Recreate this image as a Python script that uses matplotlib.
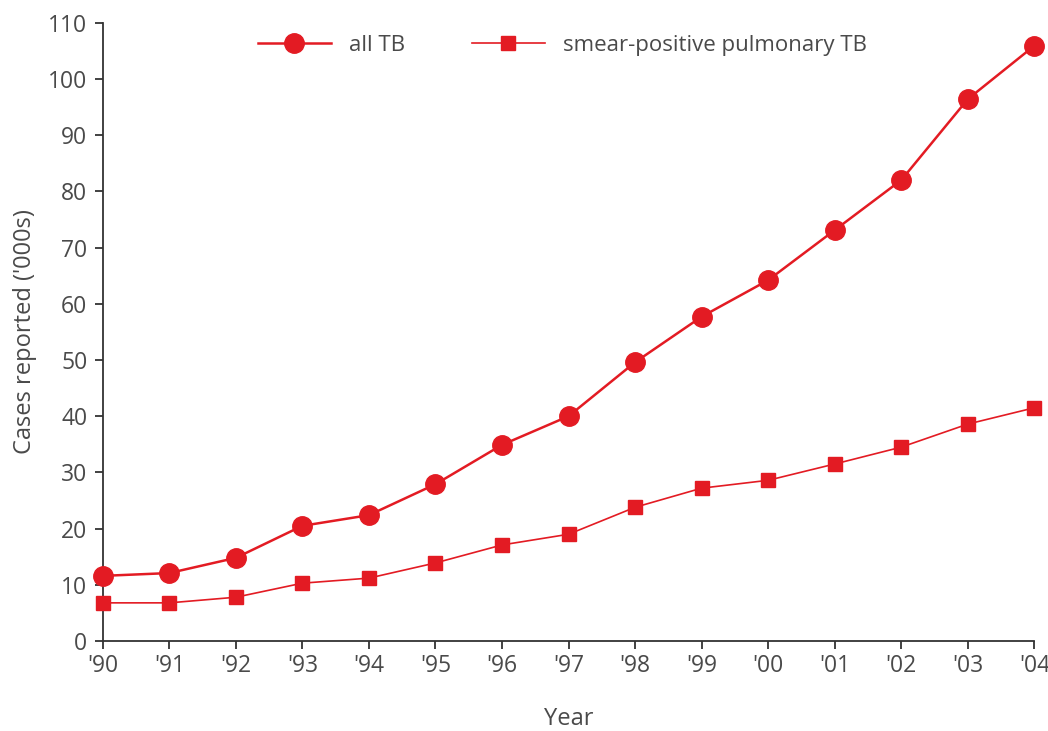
import matplotlib
matplotlib.use("Agg")
import matplotlib.pyplot as plt

# data
years = ["'90", "'91", "'92", "'93", "'94", "'95", "'96", "'97",
         "'98", "'99", "'00", "'01", "'02", "'03", "'04"]
all_tb = [11.6, 12.1, 14.8, 20.5, 22.4, 27.9, 34.9, 40.0,
          49.6, 57.7, 64.2, 73.1, 82.0, 96.4, 105.9]
smear_pos = [6.8, 6.8, 7.8, 10.3, 11.2, 13.9, 17.1, 19.0,
             23.8, 27.2, 28.6, 31.5, 34.5, 38.6, 41.5]

red = "#e31b23"
grey = "#4a4a4a"
plt.rcParams['font.family'] = ['Open Sans', 'DejaVu Sans']

fig = plt.figure(figsize=(10.48, 7.31), dpi=100)
ax = fig.add_axes([0.098, 0.123, 0.889, 0.846])

x = list(range(len(years)))
ax.plot(x, all_tb, color=red, lw=1.8, marker='o', markersize=14,
        label="all TB", clip_on=False, zorder=3)
ax.plot(x, smear_pos, color=red, lw=1.2, marker='s', markersize=10,
        label="smear-positive pulmonary TB", clip_on=False, zorder=3)

ax.set_xlim(0, len(years) - 1)
ax.set_ylim(0, 110)
ax.set_xticks(x)
ax.set_xticklabels(years)
ax.set_yticks(range(0, 111, 10))

for s in ['top', 'right']:
    ax.spines[s].set_visible(False)
for s in ['left', 'bottom']:
    ax.spines[s].set_color("#333333")
    ax.spines[s].set_linewidth(1.3)
ax.tick_params(direction='out', length=6, width=1.3, color="#333333",
               labelsize=16.5, labelcolor=grey, pad=5)
ax.tick_params(axis='x', pad=3)

ax.set_ylabel("Cases reported ('000s)", fontsize=17, color=grey, labelpad=8)
ax.set_xlabel("Year", fontsize=17, color=grey, labelpad=21)

leg = fig.legend(loc='center left', bbox_to_anchor=(0.246, 0.938), ncol=2,
                 frameon=False, fontsize=16, handlelength=3.3,
                 columnspacing=3.0, handletextpad=0.8,
                 borderpad=0, borderaxespad=0)
for t in leg.get_texts():
    t.set_color(grey)

fig.savefig("out.png", dpi=100)
